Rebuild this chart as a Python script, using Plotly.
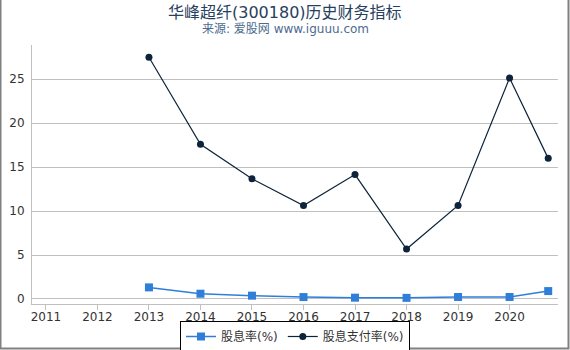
import plotly.graph_objects as go

years = [2013, 2014, 2015, 2016, 2017, 2018, 2019, 2020, 2020.75]
dividend_yield = [1.32, 0.6, 0.38, 0.22, 0.15, 0.13, 0.23, 0.23, 0.9]
payout_ratio = [27.5, 17.6, 13.67, 10.64, 14.16, 5.68, 10.64, 25.15, 16.0]
tick_years = [2011, 2012, 2013, 2014, 2015, 2016, 2017, 2018, 2019, 2020]
y_ticks = [0, 5, 10, 15, 20, 25]

FONT = "DejaVu Sans, Noto Sans CJK SC, sans-serif"
W, H = 570, 350
L, R, T, B = 32, 12, 45, 46
pw, ph = W - L - R, H - T - B


def px_to_paper_x(px):
    return (px - L) / pw


def px_to_paper_y(py):
    return (H - B - py) / ph


fig = go.Figure()
fig.add_trace(go.Scatter(
    x=years, y=dividend_yield, name="股息率(%)", mode="lines+markers",
    line=dict(color="#2f7ed8", width=1.5),
    marker=dict(symbol="square", size=8, color="#2f7ed8"),
))
fig.add_trace(go.Scatter(
    x=years, y=payout_ratio, name="股息支付率(%)", mode="lines+markers",
    line=dict(color="#0d233a", width=1.2),
    marker=dict(symbol="circle", size=7, color="#0d233a"),
))

fig.update_layout(
    width=W, height=H,
    margin=dict(l=L, r=R, t=T, b=B, autoexpand=False),
    paper_bgcolor="white", plot_bgcolor="white",
    font=dict(family=FONT, size=12, color="#333333"),
    showlegend=True,
    legend=dict(
        orientation="h", x=0.5, xanchor="center",
        y=px_to_paper_y(321), yanchor="top",
        bordercolor="#000000", borderwidth=1, bgcolor="white",
        font=dict(size=12, color="#333333"),
        itemwidth=30, tracegroupgap=0,
    ),
    annotations=[
        dict(text="华峰超纤(300180)历史财务指标", xref="paper", yref="paper",
             x=px_to_paper_x(285), y=px_to_paper_y(12), xanchor="center", yanchor="middle",
             showarrow=False, font=dict(size=16, color="#274060", family=FONT)),
        dict(text="来源: 爱股网 www.iguuu.com", xref="paper", yref="paper",
             x=px_to_paper_x(285), y=px_to_paper_y(29), xanchor="center", yanchor="middle",
             showarrow=False, font=dict(size=12, color="#4d6a8f", family=FONT)),
    ],
    xaxis=dict(
        range=[2010.73, 2020.94], tickmode="array", tickvals=tick_years,
        ticktext=[str(y) for y in tick_years],
        showgrid=False, zeroline=False, showline=True, linecolor="#c0c0c0",
        linewidth=1, ticks="outside", ticklen=5, tickcolor="#c0c0c0",
        ticklabelstandoff=-3,
        tickfont=dict(size=12, color="#333333"),
    ),
    yaxis=dict(
        range=[-0.57, 28.9], tickmode="array", tickvals=y_ticks,
        showgrid=True, gridcolor="#c0c0c0", gridwidth=1, zeroline=False,
        showline=True, linecolor="#c0c0c0", linewidth=1,
        ticks="outside", ticklen=4, tickcolor="white",
        tickfont=dict(size=12, color="#333333"),
    ),
    shapes=[dict(
        type="rect", xref="paper", yref="paper",
        x0=px_to_paper_x(0.5), x1=px_to_paper_x(W - 1.5),
        y0=px_to_paper_y(H - 1.5), y1=px_to_paper_y(-5),
        line=dict(color="#808080", width=2), fillcolor="rgba(0,0,0,0)",
        layer="above",
    )],
)

fig.write_html("out.html")
